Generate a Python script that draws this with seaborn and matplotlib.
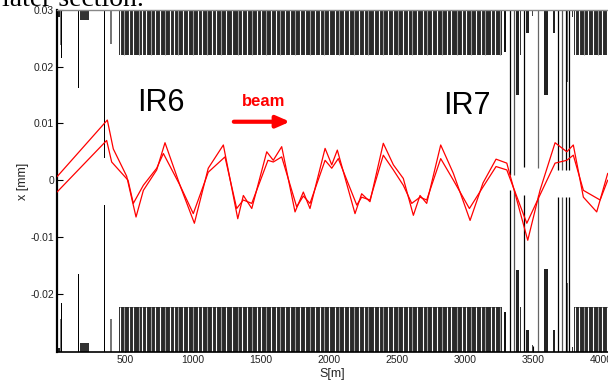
import matplotlib
matplotlib.use("Agg")
import numpy as np
import pandas as pd
import matplotlib.pyplot as plt
import seaborn as sns

# Closed orbit readings (S in m, horizontal offset) for the two traces
orbit_s_a = [0, 370, 414, 512, 581, 635, 733, 794, 904, 1010, 1112, 1223, 1329, 1370, 1432,
             1542, 1590, 1652, 1750, 1811, 1860, 1971, 2020, 2061, 2191, 2240, 2301, 2399,
             2473, 2546, 2620, 2669, 2718, 2821, 2914, 3037, 3132, 3228, 3307, 3461, 3551,
             3662, 3748, 3796, 3870, 3968, 4049]
orbit_x_a = [0.0006, 0.0106, 0.0055, 0.0007, -0.0065, -0.0018, 0.0018, 0.0066, -0.0009, -0.0076,
             0.0021, 0.0062, -0.0068, -0.0027, -0.0050, 0.0050, 0.0035, 0.0059, -0.0056, -0.0021,
             -0.0050, 0.0056, 0.0027, 0.0053, -0.0059, -0.0024, -0.0038, 0.0065, 0.0027, 0.0003,
             -0.0062, -0.0027, -0.0041, 0.0062, 0.0012, -0.0071, -0.0005, 0.0037, 0.0030, -0.0106,
             -0.0018, 0.0066, 0.0050, 0.0062, -0.0030, -0.0056, 0.0012]
orbit_s_b = [0, 365, 402, 522, 561, 635, 733, 782, 904, 1002, 1112, 1235, 1321, 1370, 1432,
             1551, 1590, 1652, 1762, 1811, 1860, 1971, 2020, 2068, 2204, 2240, 2301, 2399,
             2473, 2546, 2608, 2669, 2718, 2821, 2914, 3032, 3132, 3228, 3307, 3454, 3551,
             3662, 3748, 3796, 3870, 3993, 4049]
orbit_x_b = [-0.0021, 0.0070, 0.0032, 0.0000, -0.0041, -0.0009, 0.0021, 0.0047, -0.0009, -0.0059,
             0.0014, 0.0041, -0.0050, -0.0035, -0.0041, 0.0035, 0.0032, 0.0041, -0.0047, -0.0028,
             -0.0041, 0.0035, 0.0021, 0.0038, -0.0044, -0.0030, -0.0035, 0.0044, 0.0018, -0.0009,
             -0.0041, -0.0030, -0.0035, 0.0038, 0.0000, -0.0050, -0.0012, 0.0024, 0.0018, -0.0076,
             -0.0026, 0.0030, 0.0035, 0.0044, -0.0018, -0.0035, 0.0000]

# Arc apertures (dense region) and element boundaries seen as light stripes
arc_start = [455, 3800]
arc_end = [3272, 4060]
arc_aper_top = 0.022
arc_aper_bot = -0.0224
arc_gaps = [460, 492, 530, 561, 600, 628, 655, 690, 722, 760, 795, 830, 858, 893, 930, 962,
            1000, 1035, 1066, 1100, 1140, 1172, 1205, 1245, 1290, 1330, 1362, 1395, 1432, 1468,
            1500, 1540, 1575, 1607, 1640, 1678, 1715, 1752, 1790, 1822, 1858, 1895, 1930, 1962,
            2000, 2042, 2075, 2110, 2148, 2185, 2220, 2255, 2290, 2330, 2365, 2398, 2436, 2470,
            2505, 2545, 2580, 2612, 2650, 2688, 2722, 2760, 2795, 2830, 2865, 2900, 2940, 2975,
            3010, 3045, 3080, 3115, 3150, 3188, 3220, 3255,
            3812, 3840, 3875, 3905, 3940, 3978, 4010, 4040]

# Single elements in the insertions (position, upper and lower aperture, length)
elem_s = [18, 27, 33, 157, 202, 351, 368, 397,
          3294, 3385, 3409, 3460, 3493, 3597, 3655, 3753, 3792]
elem_top = [0.0288, 0.0238, 0.0215, 0.0162, 0.0282, 0.0039, 0.0215, 0.0240,
            0.0226, 0.0150, 0.0220, 0.0259, 0.0290, 0.0150, 0.0259, 0.0173, 0.0288]
elem_bot = [-0.0296, -0.0244, -0.0217, -0.0166, -0.0287, -0.0044, -0.0217, -0.0244,
            -0.0232, -0.0158, -0.0224, -0.0265, -0.0290, -0.0157, -0.0265, -0.0182, -0.0294]
elem_len = [35, 8, 5, 5, 65, 6, 6, 10,
            15, 20, 10, 25, 8, 28, 18, 8, 8]

# Collimator jaws in IR7 (position, upper and lower jaw)
coll_s = [3331, 3362, 3436, 3535, 3682, 3711, 3741, 3765]
coll_top = [0.0009, 0.0009, 0.0024, 0.0021, 0.0018, 0.0018, 0.0018, 0.0018]
coll_bot = [-0.0018, -0.0018, -0.0026, -0.0026, -0.0029, -0.0029, -0.0029, -0.0029]

x_ticks = [500, 1000, 1500, 2000, 2500, 3000, 3500, 4000]
y_ticks = [-0.02, -0.01, 0, 0.01, 0.02, 0.03]
y_tick_labels = ["-0.02", "-0.01", "0", "0.01", "0.02", "0.03"]

sns.set_style("white")
plt.rcParams["font.family"] = ["Liberation Sans", "DejaVu Sans"]

fig = plt.figure(figsize=(6.08, 3.86), dpi=100)
ax = fig.add_axes([57 / 608, 1 - 352 / 386, 1 - 57 / 608, 342 / 386])

y_top, y_bot = 0.0300, -0.0303

# Arc aperture bands
for s0, s1 in zip(arc_start, arc_end):
    ax.bar(s0, y_top - arc_aper_top, bottom=arc_aper_top, width=s1 - s0, align="edge",
           color="#2a2a2a", linewidth=0, zorder=1)
    ax.bar(s0, arc_aper_bot - y_bot, bottom=y_bot, width=s1 - s0, align="edge",
           color="#2a2a2a", linewidth=0, zorder=1)
gap_colors = ["white" if i % 3 != 1 else "#a0a0a0" for i in range(len(arc_gaps))]
ax.vlines(arc_gaps, arc_aper_top, y_top, colors=gap_colors, linewidth=0.8, zorder=2)
ax.vlines(arc_gaps, y_bot, arc_aper_bot, colors=gap_colors, linewidth=0.8, zorder=2)

# Insertion elements
elem_colors = ["#222222", "#777777", "black", "black", "#333333", "black", "black", "#777777",
               "#111111", "#222222", "#333333", "#222222", "#444444", "#222222", "#222222",
               "#666666", "#333333"]
for s, top, bot, ln, c in zip(elem_s, elem_top, elem_bot, elem_len, elem_colors):
    ax.bar(s, y_top - top, bottom=top, width=ln, color=c, linewidth=0, zorder=2)
    ax.bar(s, bot - y_bot, bottom=y_bot, width=ln, color=c, linewidth=0, zorder=2)

coll_colors = ["black", "#555555", "black", "#666666", "black", "#555555", "black", "black"]
ax.vlines(coll_s, coll_top, y_top, colors=coll_colors, linewidth=0.9, zorder=2)
ax.vlines(coll_s, y_bot, coll_bot, colors=coll_colors, linewidth=0.9, zorder=2)

# Orbit traces
sns.lineplot(x=orbit_s_a, y=orbit_x_a, ax=ax, color="red", linewidth=0.9,
             sort=False, estimator=None, zorder=3)
sns.lineplot(x=orbit_s_b, y=orbit_x_b, ax=ax, color="red", linewidth=0.9,
             sort=False, estimator=None, zorder=3)

ax.set_xlim(0, 4051)
ax.set_ylim(y_bot, y_top)
ax.set_xticks(x_ticks)
ax.set_yticks(y_ticks)
ax.set_yticklabels(y_tick_labels)
ax.tick_params(direction="in", length=4, width=0.8, labelsize=7.5, pad=2,
               left=True, bottom=True, colors="black")
for lab in ax.get_xticklabels() + ax.get_yticklabels():
    lab.set_color("#222222")

ax.spines["left"].set_linewidth(1.6)
ax.spines["left"].set_color("black")
ax.spines["bottom"].set_linewidth(1.2)
ax.spines["bottom"].set_color("black")
ax.spines["top"].set_color("#888888")
ax.spines["top"].set_linewidth(1.0)
ax.spines["right"].set_visible(False)

ax.set_xlabel("S[m]", fontsize=9, labelpad=2)
ax.set_ylabel("x [mm]", fontsize=9, labelpad=1)

ax.text(765, 0.0136, "IR6", fontsize=22, ha="center", va="center", color="black")
ax.text(3015, 0.0130, "IR7", fontsize=22, ha="center", va="center", color="black")
ax.text(1522, 0.0139, "beam", fontsize=12, fontweight="bold", ha="center", va="center",
        color="red")
ax.annotate("", xy=(1713, 0.0103), xytext=(1300, 0.0103),
            arrowprops=dict(arrowstyle="-|>,head_length=0.8,head_width=0.35", color="red",
                            linewidth=3, shrinkA=0, shrinkB=0))

fig.text(0.003, 1 - 6 / 386, "later section.", family="Liberation Serif", fontsize=20,
         va="baseline", ha="left", color="black")

fig.savefig("out.png", dpi=100)
